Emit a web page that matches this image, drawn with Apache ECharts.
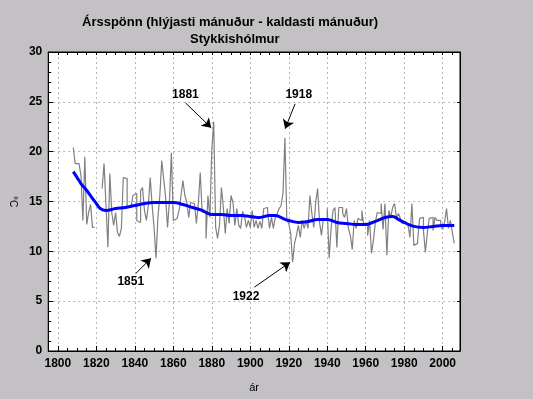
<!DOCTYPE html>
<html>
<head>
<meta charset="utf-8">
<script src="https://cdn.jsdelivr.net/npm/echarts@6/dist/echarts.min.js"></script>
<style>
html, body { margin: 0; padding: 0; background: #c3c1c4; }
#main { width: 533px; height: 399px; }
</style>
</head>
<body>
<div id="main"></div>
<script>
var chartDom = document.getElementById('main');
var myChart = echarts.init(chartDom);
var option;

var FONT = 'Arial, "Liberation Sans", sans-serif';

// annual range (warmest month - coldest month), one value per year from 1808
var firstYear = 1808;
var spanValues = [
  20.4, 18.8, 18.8, 18.9, 17.6, 13.1, 19.5, 12.7, 13.9, 14.7, 12.4,   // 1808-1818
  null, null, null, null,                                             // 1819-1822 missing
  16.3, 18.8, 14.7, 10.4, 17.8, 13.9, 12.6,                           // 1823-1829
  13.9, 11.9, 11.5, 12.3, 17.4, 17.3, 14.4, 14.4, 14.4, 15.6,         // 1830s
  15.8, 13.1, 12.9, 16.1, 16.4, 14.1, 13.1, 14.6, 17.4, 14.6,         // 1840s
  12.4, 9.3, 13.4, 15.6, 19.1, 17.3, 15.4, 12.4, 15.1, 19.9,          // 1850s
  13.1, 13.3, 13.4, 14.1, 15.6, 17.1, 15.6, 14.9, 13.4, 14.9,         // 1860s
  14.8, 14.9, 12.8, 14.8, 17.9, 13.9, 14.0, 11.3, 15.6, 13.4,         // 1870s
  20.2, 23.0, 12.4, 11.3, 12.6, 16.4, 14.4, 11.8, 14.3, 12.8,         // 1880s
  15.6, 14.9, 12.6, 14.3, 12.6, 12.3, 14.0, 13.5, 12.4, 13.1,         // 1890s
  12.4, 14.1, 12.4, 13.1, 12.3, 13.0, 12.3, 14.3, 14.4, 14.1,         // 1900s
  12.3, 13.4, 12.3, 13.4, 13.8, 14.3, 14.6, 15.8, 21.4, 13.1,         // 1910s
  12.8, 11.8, 8.9, 10.8, 11.6, 12.6, 11.4, 13.1, 12.3, 13.1,          // 1920s
  12.3, 15.6, 13.8, 12.4, 14.9, 16.3, 12.9, 11.6, 13.3, 13.1,         // 1930s
  14.3, 9.3, 12.3, 14.1, 14.4, 10.4, 14.4, 14.4, 13.8, 13.4,          // 1940s
  14.3, 12.3, 11.6, 10.2, 13.1, 12.3, 13.3, 13.1, 14.1, 12.6,         // 1950s
  12.8, 11.6, 13.1, 9.8, 11.1, 12.9, 13.9, 13.8, 14.8, 12.2,          // 1960s
  14.8, 9.6, 14.1, 13.4, 14.4, 14.8, 13.3, 13.8, 13.3, 12.8,          // 1970s
  12.9, 13.0, 12.6, 11.4, 14.8, 10.6, 10.8, 11.1, 13.3, 13.4,         // 1980s
  12.1, 9.9, 11.8, 13.3, 13.4, 12.1, 13.4, 13.1, 13.1, 12.6,          // 1990s
  12.2, 12.9, 14.3, 12.3, 13.1, 11.9, 10.8                            // 2000-2006
];

// smoothed curve (blue)
var trendYears = [1808, 1810, 1812, 1815, 1818, 1820, 1822, 1825, 1830, 1835, 1840, 1845,
  1850, 1855, 1860, 1865, 1870, 1875, 1878, 1880, 1885, 1890, 1895, 1900, 1905, 1910,
  1913, 1918, 1920, 1925, 1930, 1935, 1940, 1945, 1950, 1955, 1960, 1965, 1970, 1974,
  1977, 1980, 1985, 1990, 1995, 2000, 2006];
var trendValues = [18.0, 17.4, 16.8, 16.1, 15.3, 14.8, 14.3, 14.1, 14.3, 14.4, 14.6, 14.8,
  14.9, 14.9, 14.9, 14.7, 14.4, 14.1, 13.8, 13.7, 13.7, 13.6, 13.6, 13.5, 13.4, 13.6,
  13.6, 13.2, 13.1, 12.9, 13.0, 13.2, 13.2, 12.9, 12.8, 12.7, 12.7, 13.0, 13.4, 13.5,
  13.2, 12.9, 12.5, 12.4, 12.5, 12.6, 12.6];

var xLabelYears = [1800, 1820, 1840, 1860, 1880, 1900, 1920, 1940, 1960, 1980, 2000];

// annotations: label text, label position, arrow start, arrow tip (data coords)
var noteLabels = ['1881', '1918', '1851', '1922'];
var notePos = [[1866.3, 25.7], [1925.2, 25.7], [1837.9, 7.0], [1897.8, 5.4]];
var arrowFrom = [[1866.3, 24.9], [1923.3, 24.8], [1840.6, 7.8], [1902.1, 6.4]];
var arrowTo = [[1879.7, 22.4], [1918.1, 22.3], [1848.4, 9.3], [1920.7, 8.9]];

// each year's value is held over [year, year+1]; the last one only closes with a vertical
var spanData = [];
spanValues.forEach(function (v, i) {
  var yr = firstYear + i;
  if (v === null) { spanData.push([yr, null]); return; }
  spanData.push([yr, v]);
  if (i < spanValues.length - 1) spanData.push([yr + 1, v]);
});
var trendData = trendYears.map(function (y, i) { return [y, trendValues[i]]; });

var arrowLines = arrowFrom.map(function (p, i) {
  return [{ coord: p }, { coord: arrowTo[i] }];
});
var notePoints = noteLabels.map(function (t, i) {
  return { name: t, coord: notePos[i] };
});

var xRange = { min: 1795, max: 2009 };

option = {
  backgroundColor: '#c3c1c4',
  animation: false,
  title: [
    {
      text: 'Ársspönn (hlýjasti mánuður - kaldasti mánuður)',
      left: 77, top: 11,
      textStyle: { fontFamily: FONT, fontSize: 13, fontWeight: 'bold', color: '#000' }
    },
    {
      text: 'Stykkishólmur',
      left: 185, top: 28,
      textStyle: { fontFamily: FONT, fontSize: 13, fontWeight: 'bold', color: '#000' }
    }
  ],
  grid: {
    left: 46, right: 73, top: 52, bottom: 48,
    show: true, backgroundColor: '#fff', borderColor: '#000', borderWidth: 1
  },
  xAxis: [
    {
      type: 'value', min: xRange.min, max: xRange.max, interval: 5,
      position: 'bottom',
      name: 'ár', nameLocation: 'middle', nameGap: 31,
      nameTextStyle: { fontFamily: FONT, fontSize: 11, color: '#000' },
      axisLine: { lineStyle: { color: '#000' } },
      axisTick: { inside: true, length: 3, lineStyle: { color: '#000' } },
      axisLabel: {
        customValues: xLabelYears, margin: 7,
        formatter: function (v) { return String(v); },
        fontFamily: FONT, fontSize: 12, fontWeight: 'bold', color: '#000'
      },
      splitLine: { show: false }
    },
    {
      type: 'value', min: xRange.min, max: xRange.max,
      position: 'bottom',
      axisLine: { show: false },
      axisTick: { inside: true, length: 5, customValues: xLabelYears, lineStyle: { color: '#000' } },
      axisLabel: { show: false },
      splitLine: { show: true, lineStyle: { color: '#b4b4b4', type: [2, 3], width: 1 } }
    },
    {
      type: 'value', min: xRange.min, max: xRange.max, interval: 5,
      position: 'top',
      axisLine: { lineStyle: { color: '#000' } },
      axisTick: { inside: true, length: 3, lineStyle: { color: '#000' } },
      axisLabel: { show: false },
      splitLine: { show: false }
    }
  ],
  yAxis: [
    {
      type: 'value', min: 0, max: 30, interval: 5,
      name: '°C', nameLocation: 'middle', nameGap: 21, nameRotate: -90,
      nameTextStyle: { fontFamily: FONT, fontSize: 10, color: '#000' },
      axisLine: { show: true, lineStyle: { color: '#000' } },
      axisTick: { show: true, inside: true, length: 5, lineStyle: { color: '#000' } },
      minorTick: { show: true, splitNumber: 5, length: 3, lineStyle: { color: '#000' } },
      axisLabel: { margin: 6, fontFamily: FONT, fontSize: 12, fontWeight: 'bold', color: '#000' },
      splitLine: { show: true, lineStyle: { color: '#b4b4b4', type: [2, 3], width: 1 } }
    },
    {
      type: 'value', min: 0, max: 30, interval: 5,
      position: 'right',
      axisLine: { show: true, lineStyle: { color: '#000' } },
      axisTick: { show: true, inside: true, length: 3, lineStyle: { color: '#000' } },
      axisLabel: { show: false },
      splitLine: { show: false }
    }
  ],
  series: [
    {
      name: 'span',
      type: 'line',
      data: spanData,
      showSymbol: false,
      connectNulls: false,
      lineStyle: { color: '#808080', width: 1.2 },
      z: 2,
      markLine: {
        silent: true,
        symbol: ['none', 'arrow'],
        symbolSize: 9,
        label: { show: false },
        lineStyle: { color: '#000', type: 'solid', width: 1 },
        data: arrowLines
      },
      markPoint: {
        silent: true,
        symbol: 'circle',
        symbolSize: 0,
        label: {
          show: true, position: 'inside', formatter: '{b}',
          fontFamily: FONT, fontSize: 12, fontWeight: 'bold', color: '#000'
        },
        data: notePoints
      }
    },
    {
      name: 'trend',
      type: 'line',
      data: trendData,
      smooth: 0.4,
      showSymbol: false,
      lineStyle: { color: '#0000ff', width: 3 },
      z: 3
    }
  ]
};

myChart.setOption(option);
</script>
</body>
</html>
